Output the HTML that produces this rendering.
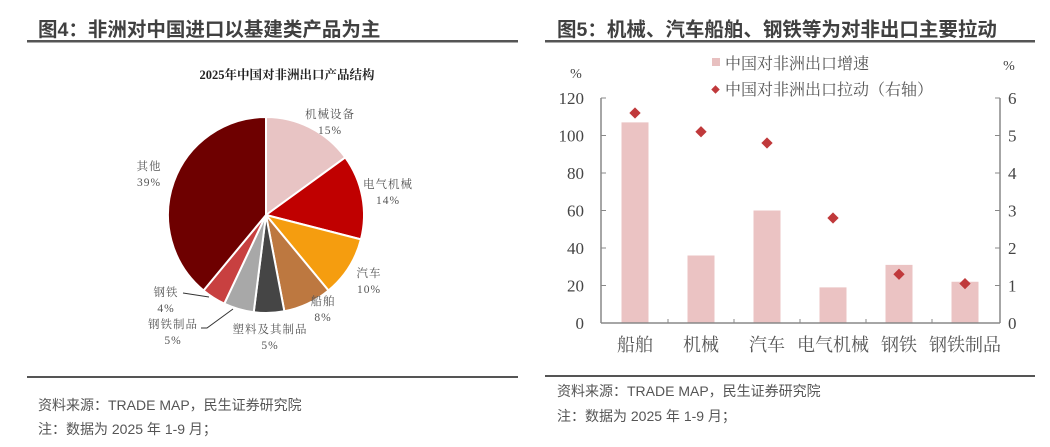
<!DOCTYPE html>
<html><head><meta charset="utf-8"><style>
body{margin:0;background:#fff;}
svg{display:block;font-family:"Liberation Serif","Noto Serif CJK SC",serif;}
.h{font-family:"Liberation Sans","Noto Sans CJK SC",sans-serif;font-weight:bold;font-size:19.5px;fill:#404040;}
.s{font-family:"Liberation Sans","Noto Sans CJK SC",sans-serif;font-size:14px;fill:#555;}
.pl{font-size:11.5px;fill:#555;letter-spacing:1px;}
.ax{font-size:17px;fill:#444;}
.cat{font-size:18px;fill:#555;font-family:"Liberation Serif","Noto Serif CJK SC",serif;}
</style></head><body>
<svg id="c" width="1050" height="447" viewBox="0 0 1050 447">
<text class="h" x="38" y="36">图4：非洲对中国进口以基建类产品为主</text>
<rect x="27" y="40" width="491" height="2.5" fill="#555"/>
<text x="287" y="79" text-anchor="middle" style="font-size:12.5px;font-weight:bold;fill:#222">2025年中国对非洲出口产品结构</text>
<g id="pie"></g>
<text class="pl" x="330" y="118" text-anchor="middle">机械设备</text><text class="pl" x="330" y="134" text-anchor="middle">15%</text>
<text class="pl" x="388" y="188" text-anchor="middle">电气机械</text><text class="pl" x="388" y="204" text-anchor="middle">14%</text>
<text class="pl" x="369" y="277" text-anchor="middle">汽车</text><text class="pl" x="369" y="293" text-anchor="middle">10%</text>
<text class="pl" x="323" y="305" text-anchor="middle">船舶</text><text class="pl" x="323" y="321" text-anchor="middle">8%</text>
<text class="pl" x="270" y="333" text-anchor="middle">塑料及其制品</text><text class="pl" x="270" y="349" text-anchor="middle">5%</text>
<text class="pl" x="173" y="328" text-anchor="middle">钢铁制品</text><text class="pl" x="173" y="344" text-anchor="middle">5%</text>
<text class="pl" x="166" y="296" text-anchor="middle">钢铁</text><text class="pl" x="166" y="312" text-anchor="middle">4%</text>
<text class="pl" x="149" y="170" text-anchor="middle">其他</text><text class="pl" x="149" y="186" text-anchor="middle">39%</text>
<polyline points="183,293 209,297" fill="none" stroke="#333" stroke-width="1"/>
<polyline points="201,328 207,328 233,309" fill="none" stroke="#333" stroke-width="1"/>
<rect x="27" y="376" width="491" height="2" fill="#555"/>
<text class="s" x="38" y="410">资料来源：TRADE MAP，民生证券研究院</text>
<text class="s" x="38" y="434">注：数据为 2025 年 1-9 月；</text>

<text class="h" x="557" y="36">图5：机械、汽车船舶、钢铁等为对非出口主要拉动</text>
<rect x="545" y="40" width="490" height="2.5" fill="#555"/>
<text class="ax" x="576" y="78" text-anchor="middle" style="font-size:14px">%</text>
<text class="ax" x="1009" y="70" text-anchor="middle" style="font-size:14px">%</text>
<rect x="712" y="58" width="8" height="8" fill="#e8c0c0"/>
<text x="725" y="69" style="font-size:16px;fill:#555">中国对非洲出口增速</text>
<rect x="712.5" y="86.5" width="6" height="6" fill="#c0393b" transform="rotate(45 715.5 89.5)"/>
<text x="725" y="95" style="font-size:16px;fill:#555">中国对非洲出口拉动（右轴）</text>
<g id="bar"></g>
<rect x="545" y="375" width="490" height="2" fill="#555"/>
<text class="s" x="557" y="396">资料来源：TRADE MAP，民生证券研究院</text>
<text class="s" x="557" y="421">注：数据为 2025 年 1-9 月；</text>
</svg>
<script>
var NS="http://www.w3.org/2000/svg";
function el(p,t,a){var e=document.createElementNS(NS,t);for(var k in a)e.setAttribute(k,a[k]);p.appendChild(e);return e;}
var pie=document.getElementById("pie"),cx=266,cy=215,r=98;
var d=[[15,"#e8c4c4"],[14,"#c00000"],[10,"#f59d0f"],[8,"#bd7840"],[5,"#454545"],[5,"#a8a8a8"],[4,"#c84040"],[39,"#6e0000"]];
var a0=0;
d.forEach(function(s){var a1=a0+s[0]/100*2*Math.PI;
var x0=cx+r*Math.sin(a0),y0=cy-r*Math.cos(a0),x1=cx+r*Math.sin(a1),y1=cy-r*Math.cos(a1);
el(pie,"path",{d:"M"+cx+","+cy+"L"+x0+","+y0+"A"+r+","+r+" 0 "+(a1-a0>Math.PI?1:0)+" 1 "+x1+","+y1+"Z",fill:s[1],stroke:"#fff","stroke-width":2});a0=a1;});
var g=document.getElementById("bar"),L=601,R=1000,Y0=323,u=225/120;
for(var i=0;i<=6;i++){var y=Y0-i*37.5;
el(g,"line",{x1:L,x2:L+5,y1:y,y2:y,stroke:"#888"});el(g,"line",{x1:R-5,x2:R,y1:y,y2:y,stroke:"#888"});
var t=el(g,"text",{x:584,y:y+6,"text-anchor":"end","class":"ax"});t.textContent=i*20;
t=el(g,"text",{x:1008,y:y+6,"class":"ax"});t.textContent=i;}
var v=[107,36,60,19,31,22],p=[5.6,5.1,4.8,2.8,1.3,1.05],n=["船舶","机械","汽车","电气机械","钢铁","钢铁制品"];
for(i=0;i<6;i++){var c=635+66*i;
el(g,"rect",{x:c-13.5,y:Y0-v[i]*u,width:27,height:v[i]*u,fill:"#ebc3c3"});
var py=Y0-p[i]*37.5;el(g,"rect",{x:c-4,y:py-4,width:8,height:8,fill:"#c0393b",transform:"rotate(45 "+c+" "+py+")"});
var t=el(g,"text",{x:c,y:351,"text-anchor":"middle","class":"cat"});t.textContent=n[i];
if(i>0)el(g,"line",{x1:c-33,x2:c-33,y1:Y0,y2:Y0-4,stroke:"#888"});}
el(g,"line",{x1:L,x2:L,y1:98,y2:Y0,stroke:"#888","stroke-width":1.5});
el(g,"line",{x1:R,x2:R,y1:98,y2:Y0,stroke:"#888","stroke-width":1.5});
el(g,"line",{x1:L,x2:R,y1:Y0,y2:Y0,stroke:"#888","stroke-width":1.5});
</script>
</body></html>
